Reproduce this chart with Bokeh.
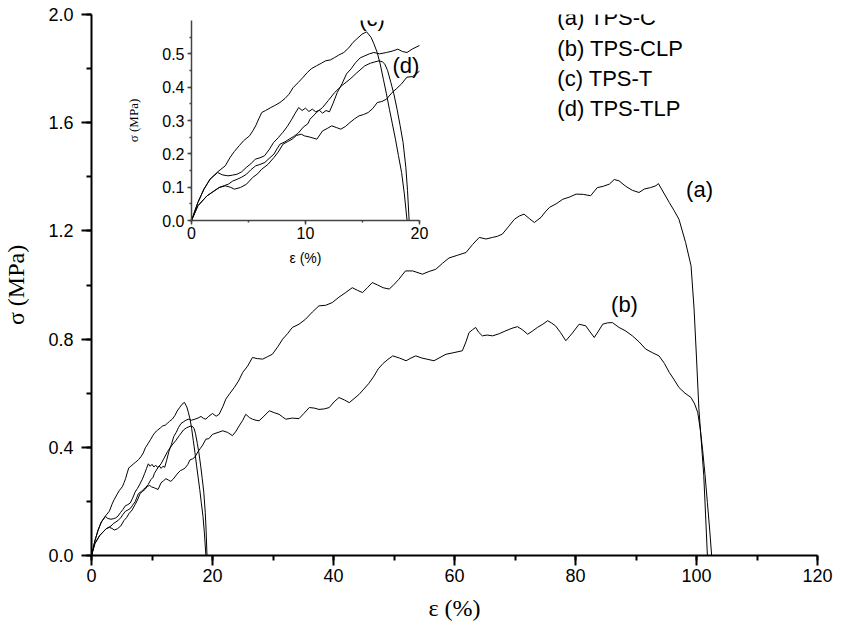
from bokeh.plotting import figure
from bokeh.models import Range1d, SingleIntervalTicker, PrintfTickFormatter, Label
from bokeh.layouts import column
from bokeh.embed import file_html
from bokeh.resources import INLINE

# ---------------- data (strain %, stress MPa) ----------------
TPS_C = [(0, 0), (0.56, 0.054), (1.09, 0.094), (1.63, 0.124), (2.3, 0.144), (2.7, 0.137),
         (3.2, 0.134), (3.6, 0.136), (4.0, 0.139), (4.4, 0.146), (4.8, 0.159), (5.2, 0.17),
         (5.6, 0.184), (6.0, 0.188), (6.4, 0.194), (6.8, 0.212), (7.2, 0.234), (7.6, 0.248),
         (8.0, 0.264), (8.4, 0.282), (8.8, 0.304), (9.1, 0.322), (9.4, 0.339), (9.7, 0.33),
         (10.0, 0.337), (10.3, 0.327), (10.6, 0.334), (10.9, 0.326), (11.2, 0.331), (11.5, 0.322),
         (11.8, 0.33), (12.1, 0.326), (12.4, 0.35), (12.8, 0.385), (13.2, 0.41), (13.6, 0.44),
         (14.0, 0.455), (14.4, 0.474), (14.8, 0.488), (15.2, 0.494), (15.6, 0.5), (16.0, 0.504),
         (16.5, 0.5), (17.1, 0.504), (17.6, 0.508), (18.1, 0.514), (18.5, 0.507), (18.9, 0.504),
         (19.4, 0.515), (20.0, 0.525), (20.6, 0.515), (21.1, 0.522), (21.7, 0.55), (22.2, 0.578),
         (22.9, 0.6), (23.6, 0.621), (24.3, 0.645), (25.0, 0.677), (25.8, 0.7), (26.6, 0.732),
         (27.4, 0.728), (28.3, 0.726), (29.1, 0.735), (29.9, 0.744), (30.8, 0.772), (31.6, 0.8),
         (32.4, 0.82), (33.2, 0.843), (34.3, 0.855), (35.4, 0.874), (36.5, 0.9), (37.6, 0.923),
         (38.7, 0.925), (39.8, 0.935), (40.9, 0.955), (42.0, 0.972), (43.1, 0.99), (44.0, 0.98),
         (44.8, 0.972), (45.6, 0.99), (46.4, 1.009), (47.3, 1.0), (48.2, 0.99), (49.2, 0.985),
         (49.8, 0.997), (50.8, 1.021), (51.9, 1.052), (53.1, 1.052), (54.7, 1.04), (55.8, 1.05),
         (56.9, 1.058), (58.0, 1.08), (59.1, 1.1), (60.5, 1.11), (61.9, 1.12), (63.0, 1.15),
         (64.1, 1.176), (65.2, 1.17), (66.3, 1.176), (67.1, 1.18), (67.9, 1.188), (68.9, 1.215),
         (69.9, 1.243), (70.7, 1.255), (71.5, 1.262), (72.4, 1.245), (73.2, 1.231), (74.3, 1.25),
         (75.0, 1.27), (75.7, 1.287), (76.8, 1.3), (77.9, 1.317), (79.0, 1.325), (80.1, 1.336),
         (81.3, 1.335), (82.5, 1.33), (83.6, 1.36), (84.6, 1.365), (85.6, 1.373), (86.4, 1.39),
         (87.2, 1.385), (88.3, 1.365), (89.4, 1.35), (90.5, 1.342), (91.4, 1.355), (92.4, 1.36),
         (93.3, 1.367), (93.7, 1.375), (94.6, 1.34), (95.5, 1.305), (96.3, 1.275), (97.1, 1.243),
         (98.2, 1.157), (99.1, 1.071), (99.6, 0.911), (100.0, 0.73), (100.4, 0.541), (100.8, 0.42),
         (101.2, 0.296), (101.5, 0.15), (101.8, 0.0)]

TPS_CLP = [(0, 0), (0.56, 0.044), (1.36, 0.074), (2.43, 0.099), (2.96, 0.104), (3.4, 0.1),
           (3.76, 0.094), (4.29, 0.099), (4.83, 0.109), (5.36, 0.129), (5.8, 0.14), (6.16, 0.154),
           (6.7, 0.168), (7.23, 0.189), (7.6, 0.205), (8.03, 0.229), (8.4, 0.236), (8.83, 0.244),
           (9.2, 0.255), (9.63, 0.259), (9.9, 0.254), (10.4, 0.25), (11.0, 0.244), (11.5, 0.269),
           (11.9, 0.276), (12.3, 0.284), (12.7, 0.279), (13.1, 0.274), (13.5, 0.282), (13.9, 0.294),
           (14.3, 0.305), (14.7, 0.314), (15.1, 0.318), (15.5, 0.324), (15.9, 0.336), (16.3, 0.354),
           (16.7, 0.357), (17.1, 0.364), (17.6, 0.384), (18.0, 0.396), (18.4, 0.409), (18.9, 0.43),
           (19.4, 0.432), (20.0, 0.448), (21.7, 0.461), (22.5, 0.455), (23.3, 0.443), (23.9, 0.46),
           (24.4, 0.479), (25.0, 0.5), (25.5, 0.522), (26.1, 0.51), (26.6, 0.504), (27.2, 0.5),
           (27.7, 0.498), (28.5, 0.515), (29.4, 0.535), (30.2, 0.528), (31.0, 0.522), (31.6, 0.512),
           (32.1, 0.504), (33.2, 0.508), (34.3, 0.506), (35.1, 0.525), (36.0, 0.547), (36.8, 0.545),
           (37.6, 0.54), (38.5, 0.542), (39.3, 0.547), (40.1, 0.568), (40.9, 0.584), (41.8, 0.575),
           (42.6, 0.565), (43.4, 0.58), (44.2, 0.595), (45.0, 0.615), (45.8, 0.635), (46.6, 0.66),
           (47.4, 0.69), (48.2, 0.71), (49.0, 0.725), (49.8, 0.738), (50.9, 0.73), (52.0, 0.72),
           (52.8, 0.73), (53.6, 0.738), (54.6, 0.73), (55.6, 0.725), (56.6, 0.72), (57.6, 0.732),
           (58.6, 0.744), (59.9, 0.75), (61.3, 0.757), (61.9, 0.79), (62.4, 0.824), (63.0, 0.835),
           (63.5, 0.843), (64.0, 0.825), (64.6, 0.812), (65.4, 0.815), (66.3, 0.812), (67.4, 0.82),
           (68.5, 0.831), (69.5, 0.84), (70.4, 0.846), (71.2, 0.835), (72.1, 0.818), (72.9, 0.83),
           (73.7, 0.843), (74.6, 0.855), (75.4, 0.868), (76.0, 0.86), (76.7, 0.849), (77.5, 0.825),
           (78.4, 0.794), (79.4, 0.82), (80.6, 0.855), (81.7, 0.849), (82.3, 0.83), (83.1, 0.806),
           (83.8, 0.83), (84.5, 0.855), (85.3, 0.86), (86.1, 0.861), (87.2, 0.843), (88.3, 0.83),
           (89.4, 0.812), (90.5, 0.79), (91.6, 0.763), (92.7, 0.75), (93.8, 0.738), (94.7, 0.71),
           (95.5, 0.677), (96.3, 0.65), (97.1, 0.621), (98.1, 0.6), (99.1, 0.584), (99.7, 0.56),
           (100.2, 0.529), (100.6, 0.47), (101.0, 0.393), (101.4, 0.3), (101.8, 0.196),
           (102.2, 0.09), (102.5, 0.0)]

TPS_T = [(0, 0), (0.56, 0.054), (1.09, 0.094), (1.63, 0.124), (2.3, 0.146), (2.96, 0.164),
         (3.4, 0.19), (3.76, 0.207), (4.2, 0.225), (4.56, 0.239), (5.09, 0.254), (5.4, 0.27),
         (5.63, 0.284), (5.9, 0.305), (6.16, 0.324), (6.5, 0.33), (6.96, 0.339), (7.3, 0.345),
         (7.76, 0.354), (8.2, 0.366), (8.56, 0.379), (8.9, 0.398), (9.36, 0.414), (9.8, 0.43),
         (10.16, 0.444), (10.5, 0.455), (10.96, 0.464), (11.4, 0.472), (11.76, 0.479), (12.2, 0.482),
         (12.56, 0.489), (12.9, 0.496), (13.36, 0.504), (13.8, 0.518), (14.16, 0.534), (14.6, 0.548),
         (14.96, 0.559), (15.36, 0.566), (15.76, 0.549), (16.0, 0.53), (16.29, 0.504), (16.55, 0.47),
         (16.83, 0.424), (17.1, 0.38), (17.36, 0.334), (17.62, 0.29), (17.89, 0.244), (18.15, 0.195),
         (18.43, 0.144), (18.67, 0.08), (18.91, 0.0)]

TPS_TLP = [(0, 0), (0.56, 0.044), (1.36, 0.074), (2.43, 0.099), (2.9, 0.105), (3.23, 0.109),
           (3.6, 0.118), (4.03, 0.124), (4.4, 0.13), (4.83, 0.139), (5.2, 0.152), (5.63, 0.164),
           (6.0, 0.168), (6.43, 0.174), (6.8, 0.186), (7.23, 0.199), (7.5, 0.215), (7.76, 0.229),
           (8.2, 0.236), (8.56, 0.244), (8.96, 0.252), (9.36, 0.262), (9.8, 0.28), (10.2, 0.29),
           (10.4, 0.304), (11.0, 0.325), (11.5, 0.339), (12.0, 0.36), (12.56, 0.384), (13.2, 0.405),
           (13.9, 0.424), (14.5, 0.443), (15.2, 0.464), (15.7, 0.472), (16.1, 0.476), (16.45, 0.479),
           (16.75, 0.476), (16.96, 0.469), (17.2, 0.45), (17.49, 0.414), (17.75, 0.38), (18.03, 0.334),
           (18.3, 0.285), (18.56, 0.234), (18.8, 0.16), (18.95, 0.09), (19.09, 0.0)]

SERIES = [TPS_C, TPS_CLP, TPS_T, TPS_TLP]
LEGEND_LINES = ["(a) TPS-C", "(b) TPS-CLP", "(c) TPS-T", "(d) TPS-TLP"]
MAIN_TAGS = [("(a)", 100.5, 1.353), ("(b)", 88.1, 0.928)]
INSET_TAGS = [("(c)", 15.84, 0.606), ("(d)", 18.8, 0.465)]

SANS = "Liberation Sans"
SERIF = "Liberation Serif"


def style_axes(fig, xint, yint, yfmt, tick_font, lw, tick_out, minor_out,
               xstand, ystand, xlab_stand, ylab_stand, axis_color):
    fig.xaxis.ticker = SingleIntervalTicker(interval=xint, num_minor_ticks=2)
    fig.yaxis.ticker = SingleIntervalTicker(interval=yint, num_minor_ticks=2)
    fig.yaxis.formatter = PrintfTickFormatter(format=yfmt)
    for ax in (fig.xaxis[0], fig.yaxis[0]):
        ax.axis_line_width = lw
        ax.axis_line_color = axis_color
        ax.major_tick_line_width = lw
        ax.minor_tick_line_width = lw
        ax.major_tick_line_color = axis_color
        ax.minor_tick_line_color = axis_color
        ax.major_tick_in = 0
        ax.minor_tick_in = 0
        ax.major_tick_out = tick_out
        ax.minor_tick_out = minor_out
        ax.major_label_text_font = SANS
        ax.major_label_text_font_size = tick_font
        ax.major_label_text_color = "black"
        ax.axis_label_text_font_style = "normal"
        ax.axis_label_text_color = "black"
    fig.xaxis[0].major_label_standoff = xstand
    fig.yaxis[0].major_label_standoff = ystand
    fig.xaxis[0].axis_label_standoff = xlab_stand
    fig.yaxis[0].axis_label_standoff = ylab_stand
    fig.grid.visible = False
    fig.outline_line_color = None


# ---------------- main plot ----------------
p = figure(width=838, height=625, output_backend="svg", toolbar_location=None,
           x_range=Range1d(0, 120), y_range=Range1d(0, 2),
           x_axis_label="ε (%)", y_axis_label="σ (MPa)",
           min_border_left=91, min_border_right=21, min_border_top=14, min_border_bottom=70)
style_axes(p, 20, 0.4, "%.1f", "18px", 2, 10, 5, 3, 8, 10, 16, "black")
p.xaxis[0].axis_label_text_font = SERIF
p.xaxis[0].axis_label_text_font_size = "24px"
p.yaxis[0].axis_label_text_font = SERIF
p.yaxis[0].axis_label_text_font_size = "24px"

for s in SERIES:
    xs = [a for a, b in s]
    ys = [b for a, b in s]
    p.line(xs, ys, line_color="black", line_width=1)

for txt, tx, ty in MAIN_TAGS:
    p.add_layout(Label(x=tx, y=ty, text=txt, text_align="center", text_baseline="middle",
                       text_font=SANS, text_font_size="22px", text_color="black"))

leg_x = 77.0
leg_y = [1.989, 1.874, 1.763, 1.652]
for txt, ly in zip(LEGEND_LINES, leg_y):
    p.add_layout(Label(x=leg_x, y=ly, text=txt, text_align="left", text_baseline="middle",
                       text_font=SANS, text_font_size="22px", text_color="black"))

# ---------------- inset ----------------
inset = figure(width=340, height=287, output_backend="svg", toolbar_location=None,
               x_range=Range1d(0, 20), y_range=Range1d(0, 0.6),
               x_axis_label="ε (%)", y_axis_label="σ (MPa)",
               min_border_left=75, min_border_right=15, min_border_top=22, min_border_bottom=65,
               background_fill_alpha=0, border_fill_alpha=0)
style_axes(inset, 10, 0.1, "%.1f", "16px", 1.5, 4, 2, 2, 3, 8, 18, "#444444")
inset.xaxis[0].axis_label_text_font = SANS
inset.xaxis[0].axis_label_text_font_size = "14px"
inset.yaxis[0].axis_label_text_font = SERIF
inset.yaxis[0].axis_label_text_font_size = "13px"

for s in SERIES:
    xs = [a for a, b in s]
    ys = [b for a, b in s]
    inset.line(xs, ys, line_color="black", line_width=1)

for txt, tx, ty in INSET_TAGS:
    inset.add_layout(Label(x=tx, y=ty, text=txt, text_align="center", text_baseline="middle",
                           text_font=SANS, text_font_size="22px", text_color="black"))

inset.styles = {"position": "absolute", "left": "100px", "top": "-2px"}

layout = column(p, inset)
open("out.html", "w").write(file_html(layout, INLINE))
